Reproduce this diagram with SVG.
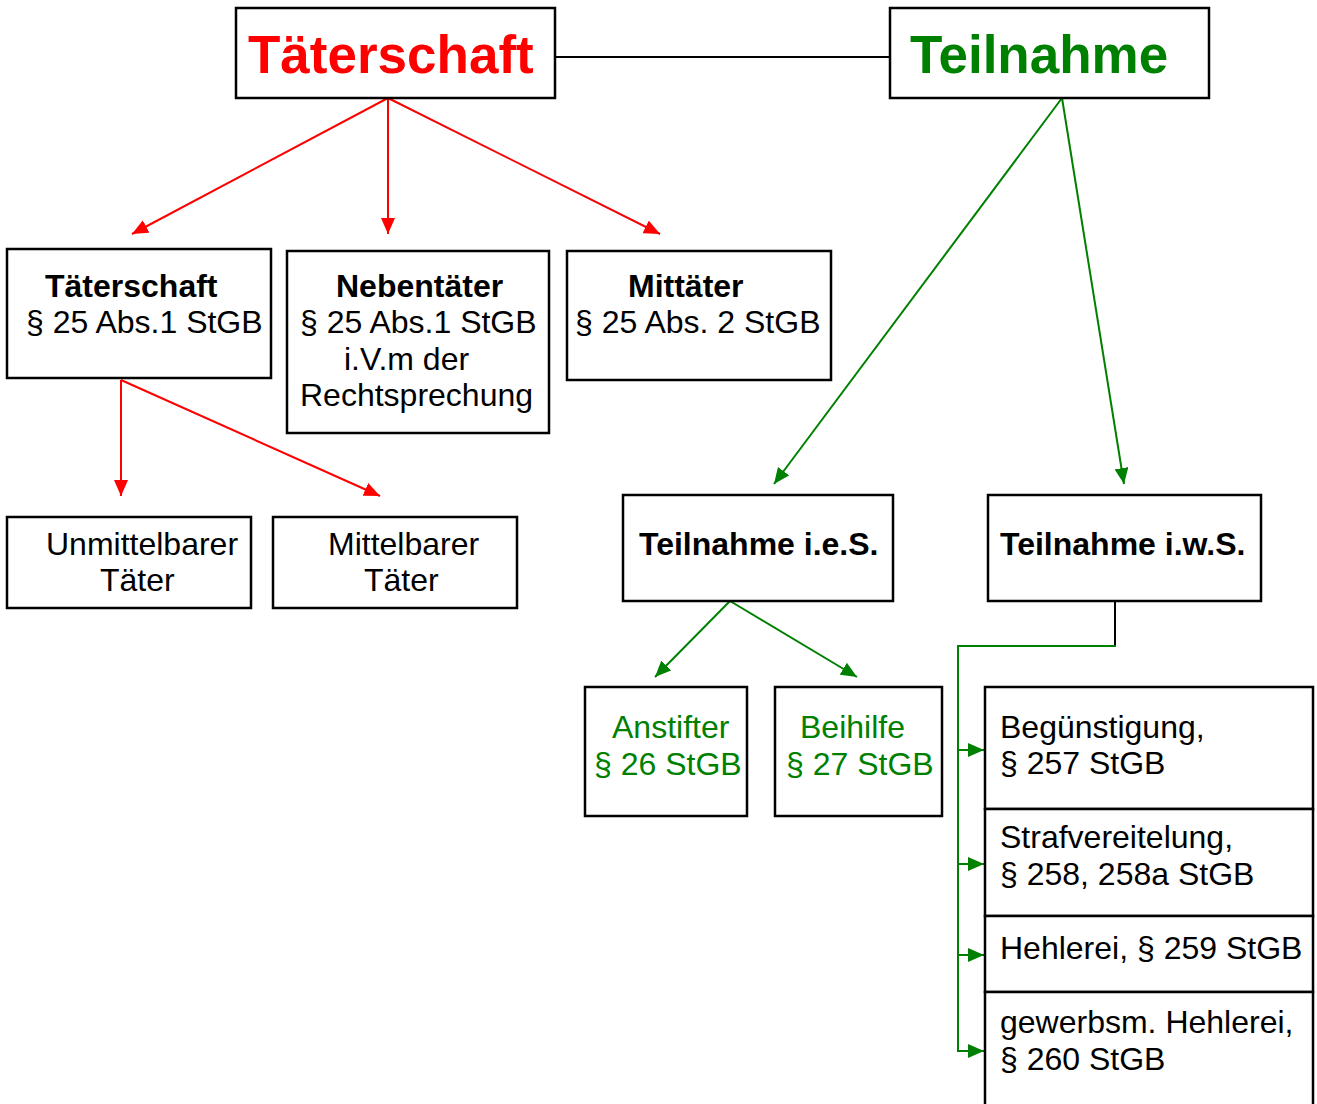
<svg xmlns="http://www.w3.org/2000/svg" width="1317" height="1104" viewBox="0 0 1317 1104">
<style>
text{font-family:"Liberation Sans",Arial,sans-serif;font-size:32px;fill:#000}
.b{font-weight:bold}
.big{font-size:53px;font-weight:bold}
.red{fill:#FF0000}
.grn{fill:#008000}
rect{fill:#fff;stroke:#000;stroke-width:2.5}
.cr{stroke:#FF0000;stroke-width:2;fill:none}
.cg{stroke:#008000;stroke-width:2;fill:none}
.ck{stroke:#000;stroke-width:2;fill:none}
</style>
<defs>
<marker id="ar" markerUnits="userSpaceOnUse" viewBox="0 0 16 14" refX="16" refY="7" markerWidth="16" markerHeight="14" orient="auto"><path d="M0,0 L16,7 L0,14 Z" fill="#FF0000"/></marker>
<marker id="ag" markerUnits="userSpaceOnUse" viewBox="0 0 16 14" refX="16" refY="7" markerWidth="16" markerHeight="14" orient="auto"><path d="M0,0 L16,7 L0,14 Z" fill="#008000"/></marker>
</defs>
<g id="connectors">
<path class="ck" d="M555,57 L890,57"/>
<path class="cr" d="M388,98 L132,234" marker-end="url(#ar)"/>
<path class="cr" d="M388,98 L388,234" marker-end="url(#ar)"/>
<path class="cr" d="M388,98 L660,234" marker-end="url(#ar)"/>
<path class="cr" d="M121,380 L121,496" marker-end="url(#ar)"/>
<path class="cr" d="M121,380 L380,496" marker-end="url(#ar)"/>
<path class="cg" d="M1062,98 L774,484" marker-end="url(#ag)"/>
<path class="cg" d="M1062,98 L1124,484" marker-end="url(#ag)"/>
<path class="cg" d="M730,601 L655,677" marker-end="url(#ag)"/>
<path class="cg" d="M730,601 L857,677" marker-end="url(#ag)"/>
<path class="ck" d="M1115,601 L1115,646"/>
<path class="cg" d="M1116,646 L958,646 L958,1052"/>
<path class="cg" d="M958,750 L984,750" marker-end="url(#ag)"/>
<path class="cg" d="M958,864 L984,864" marker-end="url(#ag)"/>
<path class="cg" d="M958,955 L984,955" marker-end="url(#ag)"/>
<path class="cg" d="M958,1051 L984,1051" marker-end="url(#ag)"/>
</g>
<g id="n-taeterschaft-top">
<rect x="236" y="8" width="319" height="90"/>
<text class="big red" x="248" y="73">Täterschaft</text>
</g>
<g id="n-teilnahme-top">
<rect x="890" y="8" width="319" height="90"/>
<text class="big grn" x="910" y="73">Teilnahme</text>
</g>
<g id="n-taeterschaft">
<rect x="7" y="249" width="264" height="129"/>
<text class="b" x="45" y="297">Täterschaft</text>
<text x="26" y="333">§ 25 Abs.1 StGB</text>
</g>
<g id="n-nebentaeter">
<rect x="287" y="251" width="262" height="182"/>
<text class="b" x="336" y="297">Nebentäter</text>
<text x="300" y="333">§ 25 Abs.1 StGB</text>
<text x="344" y="370">i.V.m der</text>
<text x="300" y="406">Rechtsprechung</text>
</g>
<g id="n-mittaeter">
<rect x="567" y="251" width="264" height="129"/>
<text class="b" x="628" y="297">Mittäter</text>
<text x="575" y="333">§ 25 Abs. 2 StGB</text>
</g>
<g id="n-unmittelbar">
<rect x="7" y="517" width="244" height="91"/>
<text x="46" y="555">Unmittelbarer</text>
<text x="100" y="591">Täter</text>
</g>
<g id="n-mittelbar">
<rect x="273" y="517" width="244" height="91"/>
<text x="328" y="555">Mittelbarer</text>
<text x="364" y="591">Täter</text>
</g>
<g id="n-teilnahme-ies">
<rect x="623" y="495" width="270" height="106"/>
<text class="b" x="639" y="555">Teilnahme i.e.S.</text>
</g>
<g id="n-teilnahme-iws">
<rect x="988" y="495" width="273" height="106"/>
<text class="b" x="1000" y="555">Teilnahme i.w.S.</text>
</g>
<g id="n-anstifter">
<rect x="585" y="687" width="162" height="129"/>
<text class="grn" x="612" y="738">Anstifter</text>
<text class="grn" x="594" y="775">§ 26 StGB</text>
</g>
<g id="n-beihilfe">
<rect x="775" y="687" width="167" height="129"/>
<text class="grn" x="800" y="738">Beihilfe</text>
<text class="grn" x="786" y="775">§ 27 StGB</text>
</g>
<g id="n-beguenstigung">
<rect x="985" y="687" width="328" height="122"/>
<text x="1000" y="738">Begünstigung,</text>
<text x="1000" y="774">§ 257 StGB</text>
</g>
<g id="n-strafvereitelung">
<rect x="985" y="809" width="328" height="107"/>
<text x="1000" y="848">Strafvereitelung,</text>
<text x="1000" y="885">§ 258, 258a StGB</text>
</g>
<g id="n-hehlerei">
<rect x="985" y="916" width="328" height="76"/>
<text x="1000" y="959">Hehlerei, § 259 StGB</text>
</g>
<g id="n-gewerbsm">
<rect x="985" y="992" width="328" height="130"/>
<text x="1000" y="1033">gewerbsm. Hehlerei,</text>
<text x="1000" y="1070">§ 260 StGB</text>
</g>
</svg>
